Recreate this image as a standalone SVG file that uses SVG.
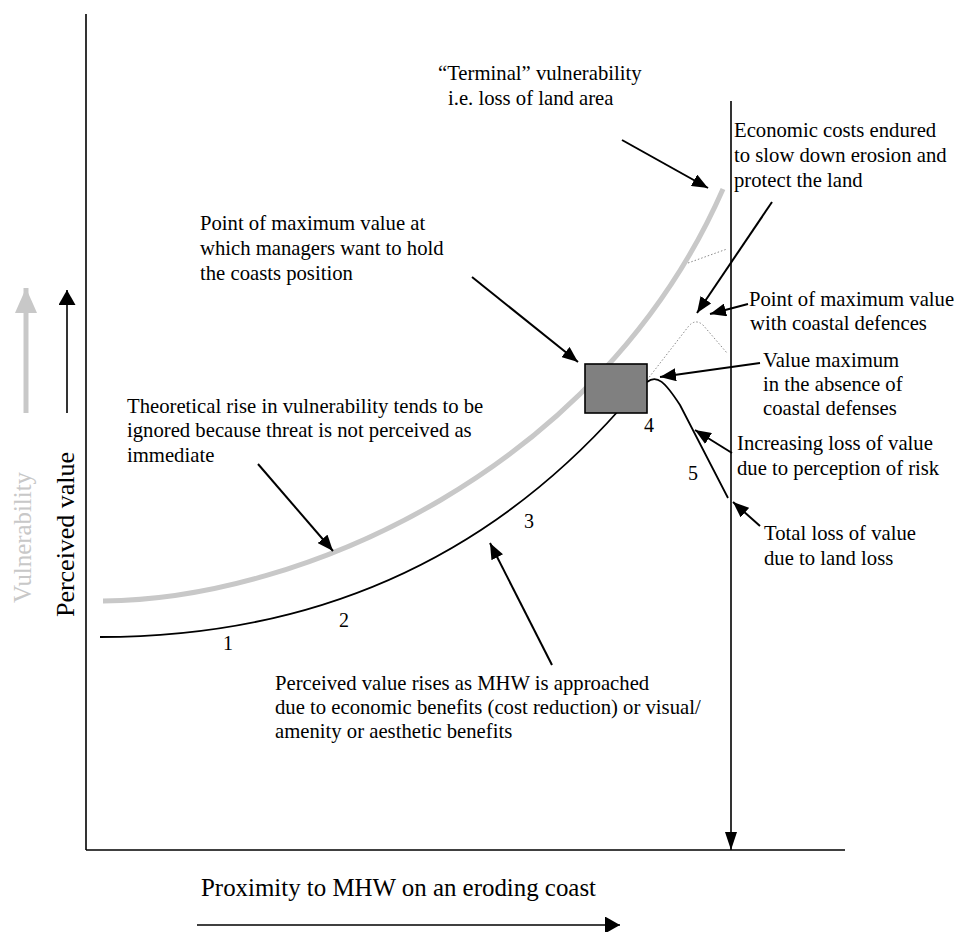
<svg xmlns="http://www.w3.org/2000/svg" width="957" height="932" viewBox="0 0 957 932">
<style>
text{font-family:"Liberation Serif","Times New Roman",serif;fill:#000}
.lbl{font-size:20.7px}
.num{font-size:20px;text-anchor:middle}
.ax{stroke:#000;stroke-width:1.6;fill:none}
.arr{stroke:#000;stroke-width:2;fill:none;marker-end:url(#ah)}
.dot{stroke:#8a8a8a;stroke-width:1;fill:none;stroke-dasharray:1.5,2}
</style>
<defs>
<marker id="ah" markerUnits="userSpaceOnUse" markerWidth="16" markerHeight="13" viewBox="0 0 16 13" refX="16" refY="6.5" orient="auto"><path d="M0,0 L16,6.5 L0,13 z" fill="#000"/></marker>
<marker id="ahv" markerUnits="userSpaceOnUse" markerWidth="18" markerHeight="12" viewBox="0 0 18 12" refX="18" refY="6" orient="auto"><path d="M0,0 L18,6 L0,12 z" fill="#000"/></marker>
<marker id="ahb" markerUnits="userSpaceOnUse" markerWidth="15" markerHeight="17" viewBox="0 0 15 17" refX="15" refY="8.5" orient="auto"><path d="M0,0 L15,8.5 L0,17 z" fill="#000"/></marker>
<marker id="ahg" markerUnits="userSpaceOnUse" markerWidth="25" markerHeight="22" viewBox="0 0 25 22" refX="25" refY="11" orient="auto"><path d="M0,0 L25,11 L0,22 z" fill="#c8c8c8"/></marker>
</defs>
<rect width="957" height="932" fill="#fff"/>

<g id="axes">
<line class="ax" x1="86" y1="14" x2="86" y2="850"/>
<line class="ax" x1="86" y1="850" x2="845" y2="850"/>
<line class="ax" x1="731" y1="101" x2="731" y2="850" style="marker-end:url(#ahv)"/>
<line class="ax" x1="197" y1="925" x2="620" y2="925" style="marker-end:url(#ahb)"/>
<line x1="67" y1="413" x2="67" y2="290" stroke="#000" stroke-width="1.6" marker-end="url(#ahb)"/>
<line x1="26" y1="413" x2="26" y2="288" stroke="#c8c8c8" stroke-width="5" marker-end="url(#ahg)"/>
<text id="lbl-vuln" transform="translate(31,603) rotate(-90)" font-size="25" fill="#c8c8c8" style="fill:#c8c8c8" textLength="131" lengthAdjust="spacingAndGlyphs">Vulnerability</text>
<text id="lbl-value" transform="translate(74,617) rotate(-90)" font-size="26" textLength="165" lengthAdjust="spacing">Perceived value</text>
<text id="lbl-x" x="201" y="896" font-size="25" textLength="395" lengthAdjust="spacingAndGlyphs">Proximity to MHW on an eroding coast</text>
</g>

<g id="curves">
<path d="M103,601 C300,600 600,470 723,189" stroke="#c8c8c8" stroke-width="5" fill="none"/>
<path d="M100,637 C250,637 450,600 620,409" stroke="#000" stroke-width="1.8" fill="none"/>
<path d="M647,382 C657,374 665,382 680,405 L728,498" stroke="#000" stroke-width="1.8" fill="none"/>
<line class="dot" x1="688" y1="263" x2="727" y2="249"/>
<path class="dot" d="M647,380 L688,327 Q695,318 703,325 L727,353"/>
</g>

<g id="node-max">
<rect x="585" y="364" width="62" height="49" fill="#808080" stroke="#000" stroke-width="1.6"/>
</g>

<g id="numbers">
<text class="num" x="228" y="650">1</text>
<text class="num" x="344" y="627">2</text>
<text class="num" x="529" y="528">3</text>
<text class="num" x="649" y="432">4</text>
<text class="num" x="693" y="480">5</text>
</g>

<g id="connectors">
<line class="arr" x1="622" y1="140" x2="708" y2="188"/>
<line class="arr" x1="772" y1="202" x2="697" y2="313"/>
<line class="arr" x1="748" y1="304" x2="710" y2="314"/>
<line class="arr" x1="760" y1="363" x2="660" y2="377"/>
<line class="arr" x1="732" y1="453" x2="695" y2="430"/>
<line class="arr" x1="760" y1="526" x2="733" y2="502"/>
<line class="arr" x1="472" y1="277" x2="578" y2="362"/>
<line class="arr" x1="258" y1="464" x2="333" y2="551"/>
<line class="arr" x1="552" y1="665" x2="490" y2="543"/>
</g>

<g id="note-terminal" class="lbl">
<text class="lbl" x="438" y="80">“Terminal” vulnerability</text>
<text class="lbl" x="448" y="105">i.e. loss of land area</text>
</g>
<g id="note-economic">
<text class="lbl" x="734" y="137">Economic costs endured</text>
<text class="lbl" x="734" y="162">to slow down erosion and</text>
<text class="lbl" x="734" y="187">protect the land</text>
</g>
<g id="note-hold">
<text class="lbl" x="200" y="230">Point of maximum value at</text>
<text class="lbl" x="200" y="255">which managers want to hold</text>
<text class="lbl" x="200" y="280">the coasts position</text>
</g>
<g id="note-defences">
<text class="lbl" x="749" y="306">Point of maximum value</text>
<text class="lbl" x="750" y="330">with coastal defences</text>
</g>
<g id="note-absence">
<text class="lbl" x="763" y="367">Value maximum</text>
<text class="lbl" x="763" y="391">in the absence of</text>
<text class="lbl" x="763" y="415">coastal defenses</text>
</g>
<g id="note-increasing">
<text class="lbl" x="737" y="450">Increasing loss of value</text>
<text class="lbl" x="737" y="475">due to perception of risk</text>
</g>
<g id="note-total">
<text class="lbl" x="764" y="540">Total loss of value</text>
<text class="lbl" x="764" y="565">due to land loss</text>
</g>
<g id="note-theoretical">
<text class="lbl" x="127" y="413">Theoretical rise in vulnerability tends to be</text>
<text class="lbl" x="127" y="437">ignored because threat is not perceived as</text>
<text class="lbl" x="127" y="462">immediate</text>
</g>
<g id="note-perceived">
<text class="lbl" x="275" y="690">Perceived value rises as MHW is approached</text>
<text class="lbl" x="275" y="714">due to economic benefits (cost reduction) or visual/</text>
<text class="lbl" x="275" y="738">amenity or aesthetic benefits</text>
</g>
</svg>
